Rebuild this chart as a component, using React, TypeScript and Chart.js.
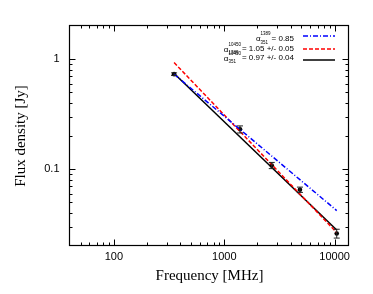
import { useEffect, useRef } from 'react';
import { Chart, registerables } from 'chart.js';

Chart.register(...registerables);

// ---- data ----
const FREQ_MHZ = [351, 1389, 2695, 4850, 10450];
const FLUX_JY = [0.73, 0.23, 0.108, 0.065, 0.026];
const FLUX_ERR = [0.02, 0.017, 0.007, 0.0036, 0.0024];

const FIT_FREQ = [351, 10450];
const FIT_LOW = [0.73, 0.042]; // alpha 351-1389 = 0.85
const FIT_HIGH = [0.93, 0.0265]; // alpha 1389-10450 = 1.05
const FIT_ALL = [0.74, 0.028]; // alpha 351-10450 = 0.97

const X_MAJOR = [100, 1000, 10000];
const X_MINOR = [50, 60, 70, 80, 90, 200, 300, 400, 500, 600, 700, 800, 900, 2000, 3000, 4000, 5000, 6000, 7000, 8000, 9000];
const Y_MAJOR = [0.1, 1];
const Y_MINOR = [0.03, 0.04, 0.05, 0.06, 0.07, 0.08, 0.09, 0.2, 0.3, 0.4, 0.5, 0.6, 0.7, 0.8, 0.9];

const LEGEND_SUP = ['1389', '10450', '10450'];
const LEGEND_SUB = ['351', '1389', '351'];
const LEGEND_TEXT = ['= 0.85', '= 1.05 +/- 0.05', '= 0.97 +/- 0.04'];

const BLUE = '#0000ff';
const RED = '#ff0000';
const BLACK = '#000000';

const SANS = '"Liberation Sans", Arial, Helvetica, sans-serif';
const SERIF = '"Liberation Serif", "Times New Roman", Times, serif';

const framePlugin = {
  id: 'frame',
  afterDatasetsDraw(chart: any) {
    const { ctx, scales } = chart;
    const x = scales.x;
    const y = scales.y;
    ctx.save();
    ctx.strokeStyle = '#222';
    ctx.lineWidth = 1;
    FREQ_MHZ.forEach((f, i) => {
      const px = x.getPixelForValue(f);
      const y1 = y.getPixelForValue(FLUX_JY[i] - FLUX_ERR[i]);
      const y2 = y.getPixelForValue(FLUX_JY[i] + FLUX_ERR[i]);
      ctx.beginPath();
      ctx.moveTo(px, y1);
      ctx.lineTo(px, y2);
      ctx.moveTo(px - 3, y1);
      ctx.lineTo(px + 3, y1);
      ctx.moveTo(px - 3, y2);
      ctx.lineTo(px + 3, y2);
      ctx.stroke();
    });
    ctx.restore();
  },
  afterDraw(chart: any) {
    const { ctx, chartArea: a, scales } = chart;
    const x = scales.x;
    const y = scales.y;
    const L = a.left - 0.5;
    const R = a.right - 0.5;
    const T = a.top - 0.5;
    const B = a.bottom - 0.5;
    ctx.save();
    ctx.strokeStyle = '#000';
    ctx.lineWidth = 1;
    ctx.beginPath();
    const xt = (v: number, len: number) => {
      const p = Math.round(x.getPixelForValue(v)) + 0.5;
      ctx.moveTo(p, B);
      ctx.lineTo(p, B - len);
      ctx.moveTo(p, T);
      ctx.lineTo(p, T + len);
    };
    const yt = (v: number, len: number) => {
      const p = Math.round(y.getPixelForValue(v)) + 0.5;
      ctx.moveTo(L, p);
      ctx.lineTo(L + len, p);
      ctx.moveTo(R, p);
      ctx.lineTo(R - len, p);
    };
    X_MAJOR.forEach((v) => xt(v, 6));
    X_MINOR.forEach((v) => xt(v, 3));
    Y_MAJOR.forEach((v) => yt(v, 6));
    Y_MINOR.forEach((v) => yt(v, 3));
    ctx.stroke();
    ctx.lineWidth = 1.2;
    ctx.strokeRect(L, T, R - L, B - T);

    // legend
    const rightText = 294;
    const textY = [38.5, 49, 58];
    const lineY = [36, 49, 60];
    const colors = [BLUE, RED, BLACK];
    const dashes = [[5, 2, 1, 2], [4, 2], []];
    ctx.fillStyle = '#000';
    ctx.textBaseline = 'middle';
    for (let i = 0; i < 3; i++) {
      ctx.font = `8px ${SANS}`;
      ctx.textAlign = 'right';
      ctx.fillText(LEGEND_TEXT[i], rightText, textY[i]);
      const mainW = ctx.measureText(LEGEND_TEXT[i]).width;
      ctx.font = `4.5px ${SANS}`;
      ctx.textAlign = 'left';
      const wSup = ctx.measureText(LEGEND_SUP[i]).width;
      const wSub = ctx.measureText(LEGEND_SUB[i]).width;
      const ssW = Math.max(wSup, wSub);
      const ssX = rightText - mainW - ssW - 1;
      ctx.fillText(LEGEND_SUP[i], ssX, textY[i] - 4.5);
      ctx.fillText(LEGEND_SUB[i], ssX, textY[i] + 4);
      ctx.font = `8px ${SANS}`;
      ctx.textAlign = 'right';
      ctx.fillText('\u03b1', ssX, textY[i] + 0.5);

      ctx.beginPath();
      ctx.strokeStyle = colors[i];
      ctx.lineWidth = 1.5;
      ctx.setLineDash(dashes[i]);
      ctx.moveTo(303, lineY[i]);
      ctx.lineTo(335, lineY[i]);
      ctx.stroke();
    }
    ctx.setLineDash([]);
    ctx.restore();
  },
};

export default function App() {
  const ref = useRef<HTMLCanvasElement>(null);
  useEffect(() => {
    const canvas = ref.current;
    if (!canvas) return;
    const line = (ys: number[], color: string, dash: number[]) => ({
      data: FIT_FREQ.map((f, i) => ({ x: f, y: ys[i] })),
      showLine: true,
      borderColor: color,
      backgroundColor: color,
      borderWidth: 1.5,
      borderDash: dash,
      pointRadius: 0,
    });
    const chart = new Chart(canvas, {
      type: 'scatter',
      data: {
        datasets: [
          line(FIT_LOW, BLUE, [5, 2, 1, 2]),
          line(FIT_HIGH, RED, [4, 2]),
          line(FIT_ALL, BLACK, []),
          {
            data: FREQ_MHZ.map((f, i) => ({ x: f, y: FLUX_JY[i] })),
            showLine: false,
            pointRadius: 2.3,
            pointBackgroundColor: '#000',
            pointBorderWidth: 0,
            borderColor: '#000',
          } as any,
        ],
      },
      options: {
        animation: false,
        responsive: false,
        devicePixelRatio: 1,
        layout: { padding: { top: 26, right: 24, left: 0, bottom: 0 } },
        plugins: { legend: { display: false }, tooltip: { enabled: false } },
        scales: {
          x: {
            type: 'logarithmic',
            min: 40,
            max: 13500,
            position: 'bottom',
            afterBuildTicks: (s: any) => {
              s.ticks = X_MAJOR.map((v) => ({ value: v }));
            },
            afterFit: (s: any) => {
              s.height = 48;
            },
            ticks: {
              autoSkip: false,
              maxRotation: 0,
              padding: 4,
              color: '#000',
              font: { family: SANS, size: 11 },
              callback: (v: any) => String(v),
            },
            grid: { display: false, drawTicks: false },
            border: { display: false },
            title: {
              display: true,
              text: 'Frequency [MHz]',
              color: '#000',
              font: { family: SERIF, size: 15 },
              padding: { top: 0, bottom: 9 },
            },
          },
          y: {
            type: 'logarithmic',
            min: 0.02,
            max: 2,
            position: 'left',
            afterBuildTicks: (s: any) => {
              s.ticks = Y_MAJOR.map((v) => ({ value: v }));
            },
            afterFit: (s: any) => {
              s.width = 70;
            },
            ticks: {
              autoSkip: false,
              padding: 10.5,
              color: '#000',
              font: { family: SANS, size: 11 },
              callback: (v: any) => String(v),
            },
            grid: { display: false, drawTicks: false },
            border: { display: false },
            title: {
              display: true,
              text: 'Flux density [Jy]',
              color: '#000',
              font: { family: SERIF, size: 15 },
              padding: { top: 12, bottom: 0 },
            },
          },
        },
      } as any,
      plugins: [framePlugin],
    });
    return () => chart.destroy();
  }, []);
  return (
    <div style={{ position: 'absolute', left: 0, top: 0, width: 373, height: 294 }}>
      <canvas ref={ref} width={373} height={294} style={{ display: 'block' }} />
    </div>
  );
}
